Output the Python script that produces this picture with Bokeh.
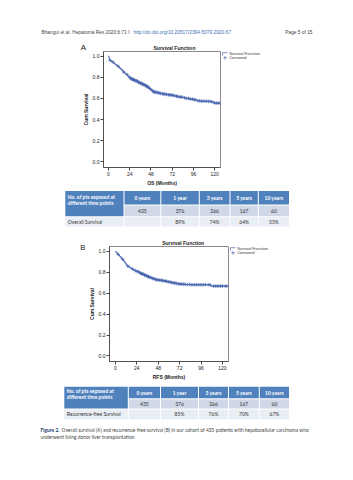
import numpy as np
from bokeh.plotting import figure
from bokeh.layouts import column, row
from bokeh.models import Range1d, FixedTicker, PrintfTickFormatter, Title
from bokeh.core.properties import value
from bokeh.embed import file_html
from bokeh.resources import INLINE

# ---------------- data ----------------
os_time = [0, 0.5, 1, 1.5, 2.5, 4, 5.5, 7, 8.5, 10, 11.5, 12.5, 14, 15.5, 17, 18.5,
           20, 21.5, 23, 24.5, 26, 28, 30, 32, 34, 36, 38, 40, 42, 44, 46, 47.5,
           49, 50.5, 53, 56, 59, 62, 65, 68, 71, 74, 77, 80, 84, 88, 92, 96, 100,
           104, 112, 116, 119, 126]
os_surv = [1.0, 0.985, 0.97, 0.96, 0.952, 0.945, 0.935, 0.925, 0.915, 0.905, 0.895,
           0.887, 0.875, 0.862, 0.85, 0.838, 0.826, 0.812, 0.80, 0.79, 0.783, 0.776,
           0.768, 0.761, 0.752, 0.742, 0.735, 0.728, 0.72, 0.708, 0.695, 0.684, 0.672,
           0.662, 0.657, 0.652, 0.646, 0.642, 0.638, 0.634, 0.630, 0.625, 0.620,
           0.614, 0.607, 0.600, 0.594, 0.588, 0.578, 0.574, 0.572, 0.568, 0.556, 0.556]
os_censored = [2, 5, 11, 17, 21, 24, 25, 26, 27, 27.5, 28.5, 29, 30, 31, 31.5, 32.5,
               33, 34, 35, 36, 37, 37.5, 38.5, 39, 40, 41, 42, 43, 44, 45, 46.5, 48,
               50, 51, 52, 53.5, 54, 55, 56.5, 58, 59, 61, 62, 63.5, 65, 66, 68, 69,
               70.5, 72, 73, 75, 77, 78, 80, 82, 83, 86, 88, 90, 91, 93, 95, 97, 98,
               101, 103, 105, 107, 109, 111, 113, 115, 117, 120, 122, 124, 126]

rfs_time = [0, 0.5, 1.5, 2.5, 3.5, 4.5, 5.5, 6.5, 7.5, 8.5, 9.5, 10.5, 11.5, 12.5,
            14, 15.5, 17, 18.5, 20, 22, 24, 26, 28, 30, 32, 34, 36, 38, 40, 42, 44,
            46, 49, 52, 55, 58, 61, 64, 67, 70, 74, 78, 84, 107, 126]
rfs_surv = [1.0, 0.99, 0.98, 0.97, 0.96, 0.952, 0.944, 0.934, 0.924, 0.914, 0.902,
            0.89, 0.878, 0.866, 0.856, 0.846, 0.837, 0.83, 0.823, 0.815, 0.806, 0.797,
            0.789, 0.781, 0.773, 0.766, 0.758, 0.751, 0.744, 0.737, 0.731, 0.727,
            0.723, 0.719, 0.714, 0.708, 0.702, 0.697, 0.692, 0.688, 0.685, 0.682,
            0.680, 0.667, 0.667]
rfs_censored = [3, 8, 14, 19, 22, 24, 25.5, 27, 28, 29.5, 30, 31, 32.5, 33, 34.5, 35,
                36.5, 37, 38, 39.5, 41, 42, 43.5, 45, 46, 47.5, 49, 50, 51.5, 53, 54,
                56, 57, 59, 60, 62, 63, 65, 66.5, 68, 69, 71, 72.5, 74, 76, 77, 79,
                81, 83, 85, 87, 89, 91, 93, 95, 97, 99, 101, 104, 106, 110, 112, 114,
                116, 118, 120, 123, 125]

x_ticks = [0, 24, 48, 72, 96, 120]
y_ticks = [0.0, 0.2, 0.4, 0.6, 0.8, 1.0]
legend_labels = ["Survival Function", "Censored"]

table_head = "No. of pts exposed at"
table_head2 = "different time points"
table_cols = ["0 years", "1 year", "3 years", "5 years", "10 years"]
n_at_risk = ["435", "376", "266", "167", "60"]
os_rates = ["", "89%", "74%", "64%", "55%"]
rfs_rates = ["", "85%", "76%", "70%", "67%"]

# ---------------- style ----------------
W = 353
BLUE = "#4a67b0"
CF = "Liberation Sans"
TF = "Lato"


def km_chart(times, surv, cens, xlabel, width, height, top, bottom, xr, yr,
             title_offset=None):
    p = figure(width=width, height=height, output_backend="svg", toolbar_location=None,
               title=None, x_range=Range1d(*xr), y_range=Range1d(*yr),
               min_border_left=24, min_border_right=1,
               min_border_top=top, min_border_bottom=bottom)
    p.background_fill_color = "white"
    p.border_fill_color = "white"
    p.outline_line_color = "#8a8a8a"
    p.outline_line_width = 1
    p.grid.visible = False

    t = np.asarray(times, dtype=float)
    s = np.asarray(surv, dtype=float)
    c = np.asarray(cens, dtype=float)
    cs = s[np.searchsorted(t, c, side="right") - 1]

    p.step(t, s, mode="after", line_color=BLUE, line_width=1.1)
    p.scatter(c, cs, marker="cross", size=3.5, line_color=BLUE, line_width=0.8)

    p.xaxis.ticker = FixedTicker(ticks=x_ticks)
    p.yaxis.ticker = FixedTicker(ticks=y_ticks)
    p.yaxis.formatter = PrintfTickFormatter(format="%.1f")
    p.xaxis.axis_label = xlabel
    p.yaxis.axis_label = "Cum Survival"
    for ax in (p.xaxis, p.yaxis):
        ax.axis_line_color = "#444"
        ax.axis_line_width = 0.8
        ax.major_tick_line_color = "#444"
        ax.major_tick_in = 0
        ax.major_tick_out = 3
        ax.minor_tick_line_color = None
        ax.major_label_text_font = CF
        ax.major_label_text_font_size = "5px"
        ax.major_label_text_color = "#222"
        ax.major_label_standoff = 1
        ax.axis_label_text_font = CF
        ax.axis_label_text_font_size = "5px"
        ax.axis_label_text_font_style = "bold"
        ax.axis_label_text_color = "#222"
        ax.axis_label_standoff = 1

    if title_offset is not None:
        p.title = Title(text="Survival Function", align="left", offset=title_offset,
                        standoff=1, text_font=CF, text_font_size="5px",
                        text_font_style="bold", text_color="#222")
    return p


def text_fig(x0, x1, top, bottom):
    p = figure(width=int(round(x1 - x0)), height=int(round(bottom - top)),
               output_backend="svg", toolbar_location=None, title=None,
               frame_align=False, x_range=Range1d(x0, x1), y_range=Range1d(bottom, top),
               x_axis_location=None, y_axis_location=None, min_border=0)
    p.background_fill_color = "white"
    p.border_fill_color = "white"
    p.grid.visible = False
    p.outline_line_color = None
    return p


def legend_fig(x0, top, bottom, fx, fy):
    # fx, fy: page position of the chart frame's top-right corner
    p = text_fig(x0, W, top, bottom)
    p.line(x=[fx + 2, fx + 2, fx + 7], y=[fy + 4, fy + 1.2, fy + 1.2],
           line_color=BLUE, line_width=0.7)
    p.scatter(x=[fx + 4.5], y=[fy + 6.3], marker="cross", size=3.5,
              line_color=BLUE, line_width=0.7)
    p.text(x=[fx + 8.7, fx + 8.7], y=[fy + 1.7, fy + 6.3], text=legend_labels,
           text_font=value(CF), text_font_size="4px", text_color="#333",
           text_align="left", text_baseline="middle")
    return p


def table_fig(top, bottom, xb, rb, row_label, rates, ty):
    p = text_fig(0, W, top, bottom)
    g = 0.5
    hdr = "#4f81bd"
    r2c = "#d0d8e8"
    r3c = "#e9edf4"
    L, R, T, B, C = [], [], [], [], []
    L.append(xb[0] + g); R.append(xb[1] - g); T.append(rb[0] + g); B.append(rb[2] - g); C.append(hdr)
    for i in range(1, 6):
        L.append(xb[i] + g); R.append(xb[i + 1] - g); T.append(rb[0] + g); B.append(rb[1] - g); C.append(hdr)
        L.append(xb[i] + g); R.append(xb[i + 1] - g); T.append(rb[1] + g); B.append(rb[2] - g); C.append(r2c)
    for i in range(0, 6):
        L.append(xb[i] + g); R.append(xb[i + 1] - g); T.append(rb[2] + g); B.append(rb[3] - g); C.append(r3c)
    p.quad(left=L, right=R, top=T, bottom=B, fill_color=C, line_color=None)

    cx = [(xb[i] + xb[i + 1]) / 2 for i in range(1, 6)]
    p.text(x=[xb[0] + 3, xb[0] + 3], y=[ty[0], ty[1]], text=[table_head, table_head2],
           text_font=value(TF), text_font_size="5px", text_font_style="bold",
           text_color="white", text_align="left", text_baseline="middle")
    p.text(x=cx, y=[ty[2]] * 5, text=table_cols, text_font=value(TF),
           text_font_size="5px", text_font_style="bold", text_color="white",
           text_align="center", text_baseline="middle")
    p.text(x=cx, y=[ty[3]] * 5, text=n_at_risk, text_font=value(TF),
           text_font_size="5px", text_color="#333", text_align="center",
           text_baseline="middle")
    p.text(x=[xb[0] + 3], y=[ty[4]], text=[row_label], text_font=value(TF),
           text_font_size="5px", text_color="#333", text_align="left",
           text_baseline="middle")
    p.text(x=cx, y=[ty[4]] * 5, text=rates, text_font=value(TF),
           text_font_size="5px", text_color="#333", text_align="center",
           text_baseline="middle")
    return p


# ---------------- header ----------------
head = text_fig(0, W, 0, 40)
head.text(x=[41], y=[32], text=["Bhangui et al. Hepatoma Res 2020;6:71  I"],
          text_font=value(CF), text_font_size="4.8px", text_color="#444",
          text_align="left", text_baseline="middle")
head.text(x=[133], y=[32], text=["http://dx.doi.org/10.20517/2394-5079.2020.67"],
          text_font=value(CF), text_font_size="4.8px", text_color="#3b6fb6",
          text_align="left", text_baseline="middle")
head.text(x=[312], y=[32], text=["Page 5 of 15"],
          text_font=value(CF), text_font_size="4.8px", text_color="#444",
          text_align="right", text_baseline="middle")

# ---------------- chart A ----------------
strip_a = text_fig(0, W, 40, 51)
strip_a.text(x=[83], y=[46.3], text=["A"], text_font=value(CF), text_font_size="8px",
             text_color="#222", text_align="center", text_baseline="middle")
strip_a.text(x=[174], y=[46.5], text=["Survival Function"], text_font=value(CF),
             text_font_size="5px", text_font_style="bold", text_color="#222",
             text_align="center", text_baseline="middle")
left_a = text_fig(0, 79, 51, 188)
chart_a = km_chart(os_time, os_surv, os_censored, "OS (Months)",
                   width=142, height=137, top=0, bottom=20,
                   xr=(-5.6, 126.6), yr=(-0.053, 1.044))
leg_a = legend_fig(221, 51, 188, 220, 51)
table_a = table_fig(188, 232, [64.3, 123.5, 160.3, 198.8, 229.5, 257.8, 289],
                    [190, 204.5, 216.3, 226.5], "Overall Survival", os_rates,
                    [196, 202, 197.3, 210.4, 221.4])

# ---------------- chart B ----------------
letter_b = text_fig(0, 85, 232, 382)
letter_b.text(x=[82.3], y=[246.7], text=["B"], text_font=value(CF), text_font_size="8px",
              text_color="#222", text_align="center", text_baseline="middle")
chart_b = km_chart(rfs_time, rfs_surv, rfs_censored, "RFS (Months)",
                   width=144, height=150, top=14, bottom=18,
                   xr=(-6.7, 126.8), yr=(-0.053, 1.045), title_offset=52.7)
leg_b = legend_fig(229, 232, 382, 228, 246)
table_b = table_fig(382, 422, [63.3, 127.8, 160, 198, 228, 258.8, 289],
                    [385.7, 398.3, 408.5, 419.3], "Recurrence-free Survival", rfs_rates,
                    [390.5, 396.8, 392, 403.4, 413.9])

# ---------------- caption ----------------
cap = text_fig(0, W, 422, 480)
cap.text(x=[40], y=[429.5], text=["Figure 2."], text_font=value(TF),
         text_font_size="4.9px", text_font_style="bold", text_color="#1f3f6e",
         text_align="left", text_baseline="middle")
cap.text(x=[61, 40], y=[429.5, 436],
         text=["Overall survival (A) and recurrence-free survival (B) in our cohort of 435 patients with hepatocellular carcinoma who",
               "underwent living donor liver transplantation"],
         text_font=value(TF), text_font_size="4.9px", text_color="#444",
         text_align="left", text_baseline="middle")

page = column(head, strip_a, row(left_a, chart_a, leg_a, spacing=0), table_a,
              row(letter_b, chart_b, leg_b, spacing=0), table_b, cap, spacing=0)
open("out.html", "w").write(file_html(page, INLINE))
